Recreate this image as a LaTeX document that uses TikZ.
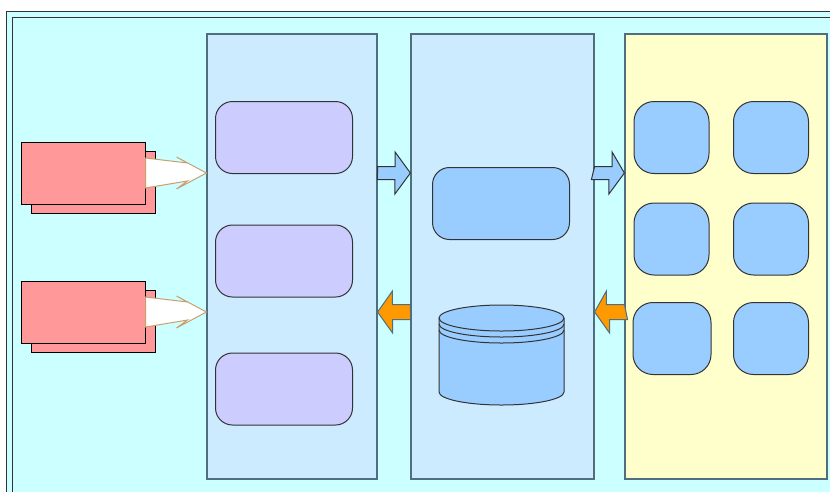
\documentclass[tikz,border=0pt]{standalone}
\usetikzlibrary{positioning, calc, shadows}
\definecolor{bgcyan}{HTML}{CCFFFF}
\definecolor{colblue}{HTML}{CCEBFF}
\definecolor{colyellow}{HTML}{FFFFCC}
\definecolor{lilac}{HTML}{CCCCFF}
\definecolor{skyblue}{HTML}{99CCFF}
\definecolor{salmon}{HTML}{FF9999}
\definecolor{amber}{HTML}{FF9900}
\definecolor{tan}{HTML}{C8A070}
\definecolor{edgegray}{HTML}{4F6F7F}
\tikzset{
column/.style={draw=edgegray, line width=1.2pt, minimum height=445pt, inner sep=0pt,
  drop shadow={shadow xshift=1.2pt, shadow yshift=-1.2pt, fill=black!60, opacity=1}}, % the three tall panels
svcbox/.style={draw=black!80, fill=lilac, rounded corners=17pt, minimum width=137pt, minimum height=72pt},
devbox/.style={draw=black!80, fill=skyblue, rounded corners=20pt, minimum width=75pt, minimum height=72pt},
srcbox/.style={draw=black, fill=salmon, minimum width=124pt, minimum height=62pt, inner sep=0pt},
fwd/.style={draw=black!80, fill=skyblue, line join=miter},
back/.style={draw=edgegray, fill=amber, line join=miter},
feed/.style={draw=tan, fill=white, line join=miter},
}
\begin{document}
\begin{tikzpicture}[x=1pt, y=-1pt, line width=1pt]
\clip (0,0) rectangle (830,491);
\fill[white] (0,0) rectangle (830,491);

% outer double frame
\draw[black!80, fill=bgcyan] (6,11) rectangle (860,520);
\draw[black!80] (12,17) rectangle (860,520);

% panels
\node[column, fill=colblue, minimum width=170pt] (svc) at (292,256.5) {};
\node[column, fill=colblue, minimum width=183pt] (hub) at (502.5,256.5) {};
\node[column, fill=colyellow, minimum width=202pt] (dev) at (726,256.5) {};

% boxes in first panel
\node[svcbox] (s1) at (284,137.5) {};
\node[svcbox] (s2) at (284,261) {};
\node[svcbox] (s3) at (284,389) {};

% second panel
\node[svcbox, fill=skyblue] (core) at (501,203.5) {};
\coordinate (db) at (501.5,355);
\filldraw[black!80, fill=skyblue]
  ($(db)+(-62.5,-37)$) -- ($(db)+(-62.5,37)$)
  arc[start angle=180, end angle=0, x radius=62.5, y radius=13]
  -- ($(db)+(62.5,-37)$)
  arc[start angle=0, end angle=-180, x radius=62.5, y radius=13] -- cycle;
\foreach \dy in {-37,-31,-25}
  \draw[black!80] ($(db)+(-62.5,\dy)$) arc[start angle=180, end angle=0, x radius=62.5, y radius=13];

% devices
\node[devbox] (d1) at (671.5,137.5) {};
\node[devbox] (d2) at (771,137.5) {};
\node[devbox] (d3) at (671.5,239) {};
\node[devbox] (d4) at (771,239) {};
\node[devbox, minimum width=78pt] (d5) at (672,338.5) {};
\node[devbox] (d6) at (771,338.5) {};

% sources, each with a sheet behind it
\node[srcbox] (src1b) at (93,182) {};
\node[srcbox] (src1) at (83,173) {};
\node[srcbox] (src2b) at (93,321) {};
\node[srcbox] (src2) at (83,312) {};

\foreach \s in {src1, src2}
  \draw[feed] ($(\s.east)+(0,-15)$) -- ($(\s.east)+(42,-10)$) -- ($(\s.east)+(31,-16)$)
    -- (svc.west |- \s.east) -- ($(\s.east)+(31,16)$) -- ($(\s.east)+(42,8)$)
    -- ($(\s.east)+(0,15)$) -- cycle;

% arrows between panels
\foreach \a/\b in {svc/hub, hub/dev} {
  \draw[fwd] (\a.east |- src1) ++(0,-6.5) -- ++(17.5,0) -- ++(0,-14.5)
    -- (\b.west |- src1) -- ++(-15.5,21) -- ++(0,-14.5) -- ++(-17.5,0) -- cycle;
  \draw[back] (\b.west |- src2) ++(0,-7.5) -- ++(-18,0) -- ++(0,-13.5)
    -- (\a.east |- src2) -- ++(15,21) -- ++(0,-13.5) -- ++(18,0) -- cycle;
}
\end{tikzpicture}
\end{document}
